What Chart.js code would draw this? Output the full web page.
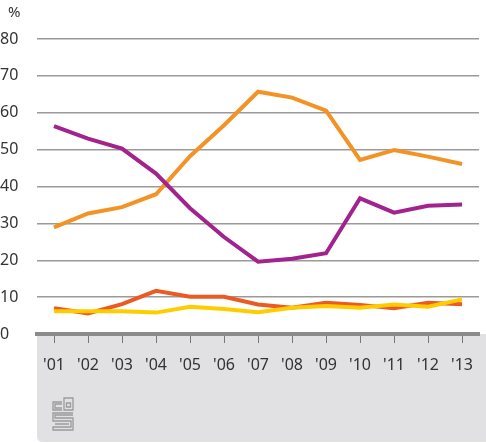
<!DOCTYPE html>
<html>
<head>
<meta charset="utf-8">
<script src="https://cdn.jsdelivr.net/npm/chart.js@4"></script>
<style>
  html, body { margin: 0; padding: 0; background: #fff; }
  #wrap { width: 486px; height: 443px; position: relative; }
</style>
</head>
<body>
<div id="wrap"><canvas id="chart"></canvas></div>
<script>
// data
const years = ["'01", "'02", "'03", "'04", "'05", "'06", "'07", "'08", "'09", "'10", "'11", "'12", "'13"];
const purpleSeries = [56.4, 53.0, 50.3, 43.5, 34.1, 26.3, 19.6, 20.4, 21.9, 36.8, 32.9, 34.8, 35.1];
const orangeSeries = [28.9, 32.7, 34.4, 37.9, 48.2, 56.6, 65.7, 64.1, 60.6, 47.2, 49.9, 48.1, 46.1];
const redSeries = [7.0, 5.6, 8.1, 11.7, 10.1, 10.1, 8.0, 7.1, 8.5, 7.9, 7.0, 8.5, 8.1];
const yellowSeries = [6.2, 6.2, 6.2, 5.8, 7.4, 6.8, 5.9, 7.1, 7.6, 7.1, 8.0, 7.4, 9.4];
const yTicks = [0, 10, 20, 30, 40, 50, 60, 70, 80];

const fontFamily = "'Noto Sans', 'Open Sans', sans-serif";

// gray footer panel below the axis, with the logo
const panelPlugin = {
  id: "panel",
  beforeDraw(chart) {
    const ctx = chart.ctx;
    const area = chart.chartArea;
    const left = 37, right = chart.width, top = area.bottom, bottom = 442, r = 6;
    ctx.save();
    ctx.fillStyle = "#e1e1e3";
    ctx.beginPath();
    ctx.moveTo(left, top);
    ctx.lineTo(right, top);
    ctx.lineTo(right, bottom);
    ctx.lineTo(left + r, bottom);
    ctx.quadraticCurveTo(left, bottom, left, bottom - r);
    ctx.closePath();
    ctx.fill();

    // cbs logo
    ctx.strokeStyle = "#9a9a9c";
    ctx.lineWidth = 1.3;
    ctx.beginPath();
    // c
    ctx.moveTo(62, 402); ctx.lineTo(53, 402); ctx.lineTo(53, 410); ctx.lineTo(62, 410);
    ctx.moveTo(62, 404); ctx.lineTo(55, 404); ctx.lineTo(55, 408); ctx.lineTo(62, 408);
    // b
    ctx.rect(64, 398, 9, 12);
    ctx.rect(66.5, 403, 4, 4);
    // s
    ctx.moveTo(73, 413); ctx.lineTo(53, 413); ctx.lineTo(53, 421); ctx.lineTo(71, 421);
    ctx.lineTo(71, 427); ctx.lineTo(53, 427); ctx.lineTo(53, 430); ctx.lineTo(73, 430);
    ctx.lineTo(73, 418); ctx.lineTo(55, 418); ctx.lineTo(55, 415); ctx.lineTo(73, 415);
    ctx.moveTo(55, 424); ctx.lineTo(69, 424);
    ctx.stroke();

    // % label
    ctx.fillStyle = "#333";
    ctx.font = "15px " + fontFamily;
    ctx.textBaseline = "middle";
    ctx.fillText("%", 8, 13);
    ctx.restore();
  }
};

function line(data, color) {
  return {
    data: data,
    borderColor: color,
    backgroundColor: color,
    borderWidth: 4,
    pointRadius: 0,
    tension: 0,
    borderCapStyle: "butt",
    borderJoinStyle: "miter"
  };
}

new Chart(document.getElementById("chart"), {
  type: "line",
  data: {
    labels: years,
    datasets: [
      line(purpleSeries, "#a3238e"),
      line(orangeSeries, "#f39325"),
      line(yellowSeries, "#ffcc00"),
      line(redSeries, "#ec5a24")
    ]
  },
  options: {
    responsive: true,
    maintainAspectRatio: false,
    animation: false,
    layout: { padding: { top: 39, right: -2, bottom: 0, left: 0 } },
    plugins: { legend: { display: false }, tooltip: { enabled: false } },
    scales: {
      x: {
        type: "category",
        offset: true,
        afterFit(scale) { scale.height = 109; },
        border: { display: true, color: "#8a8a8a", width: 4 },
        grid: {
          drawOnChartArea: false,
          drawTicks: true,
          tickLength: 9,
          tickColor: "#777",
          tickWidth: 1,
          offset: false
        },
        ticks: {
          color: "#333",
          font: { family: fontFamily, size: 16 },
          padding: 13,
          maxRotation: 0,
          autoSkip: false
        }
      },
      y: {
        min: 0,
        max: 80,
        afterBuildTicks(scale) { scale.ticks = yTicks.map(v => ({ value: v })); },
        afterFit(scale) { scale.width = 37; },
        border: { display: false },
        grid: { color: "#9a9a9a", lineWidth: 1.5, drawTicks: false },
        ticks: {
          color: "#333",
          font: { family: fontFamily, size: 16 },
          crossAlign: "far",
          padding: 8
        }
      }
    }
  },
  plugins: [panelPlugin]
});
</script>
</body>
</html>
